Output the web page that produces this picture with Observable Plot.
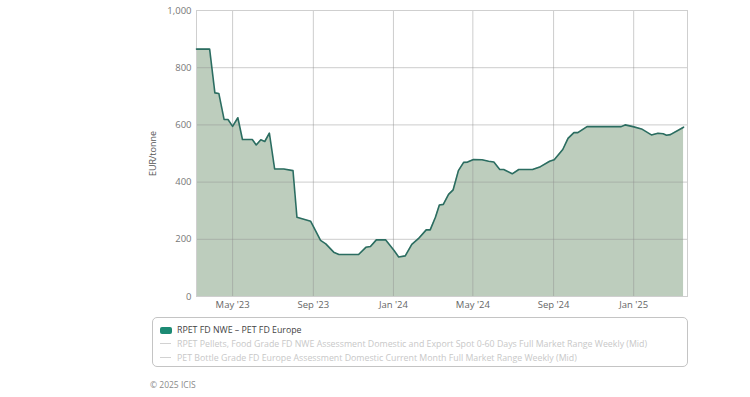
<!DOCTYPE html>
<html>
<head>
<meta charset="utf-8">
<script src="https://cdn.jsdelivr.net/npm/d3@7"></script>
<script src="https://cdn.jsdelivr.net/npm/@observablehq/plot@0.6"></script>
<style>
  html, body { margin: 0; padding: 0; background: #fff; font-family: "Open Sans", "DejaVu Sans", sans-serif; }
  #wrap { position: relative; width: 750px; height: 397px; overflow: hidden; }
  #chart { position: absolute; left: 0; top: 0; }
  #legend { position: absolute; left: 152px; top: 317px; width: 536px; height: 50px; border: 1px solid #c4c4c4; border-radius: 5px; box-sizing: border-box; font-size: 8.8px; }
  .row { position: absolute; left: 7px; height: 14px; line-height: 14px; white-space: nowrap; }
  .sw { display: inline-block; width: 12px; height: 7px; border-radius: 2px; background: #1c8a74; vertical-align: -0.5px; margin-right: 5px; }
  .dash { display: inline-block; width: 11px; height: 1.5px; background: #d2d2d2; vertical-align: 3px; margin-right: 6px; }
  #copy { position: absolute; left: 150px; top: 379px; font-size: 8.5px; color: #8a8a8a; }
</style>
</head>
<body>
<div id="wrap">
  <div id="chart"></div>
  <div id="legend"></div>
  <div id="copy"></div>
</div>
<script>
// Series: RPET FD NWE – PET FD Europe spread (EUR/tonne)
const dates = [
  "2023-03-07","2023-03-27","2023-04-04","2023-04-10","2023-04-18","2023-04-24","2023-05-01","2023-05-09",
  "2023-05-16","2023-05-31","2023-06-06","2023-06-13","2023-06-19","2023-06-26","2023-07-04","2023-07-18",
  "2023-08-01","2023-08-07","2023-08-28","2023-09-12","2023-09-20","2023-10-02","2023-10-10","2023-11-09",
  "2023-11-20","2023-11-27","2023-12-06","2023-12-20","2024-01-02","2024-01-09","2024-01-19","2024-01-29",
  "2024-02-08","2024-02-20","2024-02-26","2024-03-05","2024-03-11","2024-03-17","2024-03-25","2024-04-01",
  "2024-04-09","2024-04-17","2024-04-23","2024-05-02","2024-05-15","2024-05-25","2024-06-02","2024-06-11",
  "2024-06-17","2024-06-30","2024-07-10","2024-07-31","2024-08-12","2024-08-26","2024-09-02","2024-09-15",
  "2024-09-23","2024-10-02","2024-10-08","2024-10-22","2024-12-13","2024-12-19","2024-12-31","2025-01-13",
  "2025-01-28","2025-02-07","2025-02-15","2025-02-20","2025-02-26","2025-03-18"
];
const values = [
  865, 865, 712, 710, 619, 619, 595, 625,
  549, 549, 530, 548, 542, 571, 446, 446,
  440, 277, 263, 196, 184, 155, 147, 147,
  172, 175, 198, 198, 161, 138, 142, 182,
  202, 233, 233, 277, 320, 322, 357, 373,
  440, 469, 470, 479, 478, 473, 470, 444,
  444, 429, 444, 444, 454, 473, 478, 514,
  553, 573, 573, 594, 594, 600, 594, 586,
  565, 571, 569, 564, 566, 592
];
const yTicks = [0, 200, 400, 600, 800, 1000];
const xTickDates = ["2023-05-01","2023-09-01","2024-01-01","2024-05-01","2024-09-01","2025-01-01"];
const xDomain = ["2023-03-07","2025-03-24"];
const yLabel = "EUR/tonne";
const legendItems = [
  "RPET FD NWE – PET FD Europe",
  "RPET Pellets, Food Grade FD NWE Assessment Domestic and Export Spot 0-60 Days Full Market Range Weekly (Mid)",
  "PET Bottle Grade FD Europe Assessment Domestic Current Month Full Market Range Weekly (Mid)"
];
const copyright = "© 2025 ICIS";

const parse = d3.utcParse("%Y-%m-%d");
const data = dates.map((d, i) => ({date: parse(d), value: values[i]}));
const fmtX = d3.utcFormat("%b '%y");

const chart = Plot.plot({
  width: 750,
  height: 315,
  marginLeft: 196,
  marginRight: 63,
  marginTop: 10,
  marginBottom: 19,
  style: {fontFamily: "'Open Sans', sans-serif", fontSize: "9.5px", color: "#666", background: "transparent"},
  x: {type: "utc", domain: xDomain.map(parse)},
  y: {domain: [0, 1000]},
  marks: [
    Plot.areaY(data, {x: "date", y: "value", fill: "#bdcdbd"}),
    Plot.gridX(xTickDates.map(parse), {stroke: "#8f8f8f", strokeOpacity: 0.45}),
    Plot.gridY(yTicks, {stroke: "#8f8f8f", strokeOpacity: 0.45}),
    Plot.frame({stroke: "#cfcfcf"}),
    Plot.lineY(data, {x: "date", y: "value", stroke: "#2b6d61", strokeWidth: 1.6}),
    Plot.axisY(yTicks, {tickSize: 0, tickPadding: 5, tickFormat: d3.format(","), label: null, fill: "#777"}),
    Plot.axisX(xTickDates.map(parse), {tickSize: 0, tickPadding: 5, tickFormat: fmtX, label: null, fill: "#666"}),
    Plot.text([yLabel], {frameAnchor: "left", rotate: -90, dx: -43, textAnchor: "middle", fill: "#555", fontSize: 9})
  ]
});
document.getElementById("chart").appendChild(chart);

const legend = document.getElementById("legend");
legendItems.forEach((t, i) => {
  const row = document.createElement("div");
  row.className = "row";
  row.style.top = (5 + i * 14) + "px";
  const mark = document.createElement("span");
  mark.className = i === 0 ? "sw" : "dash";
  row.appendChild(mark);
  const txt = document.createElement("span");
  txt.textContent = t;
  txt.style.color = i === 0 ? "#444" : "#c8c8c8";
  row.appendChild(txt);
  legend.appendChild(row);
});
document.getElementById("copy").textContent = copyright;
</script>
</body>
</html>
